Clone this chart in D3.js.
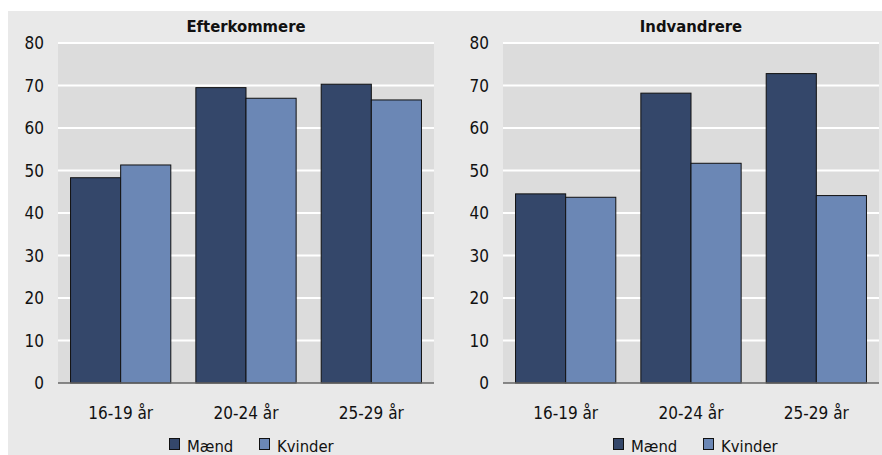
<!DOCTYPE html>
<html>
<head>
<meta charset="utf-8">
<script src="https://cdn.jsdelivr.net/npm/d3@7"></script>
<style>
  body { margin: 0; background: #fff; }
  svg text { font-family: "Liberation Sans Narrow", "DejaVu Sans Condensed", sans-serif; fill: #111; }
</style>
</head>
<body>
<svg id="chart" width="882" height="455"></svg>
<script>
// data
var ageGroups = ["16-19 år", "20-24 år", "25-29 år"];
var seriesNames = ["Mænd", "Kvinder"];
var panelTitles = ["Efterkommere", "Indvandrere"];
var efterkommereMaend = [48.3, 69.5, 70.3];
var efterkommereKvinder = [51.3, 67.0, 66.6];
var indvandrereMaend = [44.5, 68.2, 72.8];
var indvandrereKvinder = [43.7, 51.7, 44.1];
var yTicks = [0, 10, 20, 30, 40, 50, 60, 70, 80];

var colors = { "Mænd": "#34476a", "Kvinder": "#6b87b5" };

var panels = [
    { title: panelTitles[0], left: 58, right: 434, values: [efterkommereMaend, efterkommereKvinder], legendX: 169 },
    { title: panelTitles[1], left: 503, right: 879, values: [indvandrereMaend, indvandrereKvinder], legendX: 613 }
];

var svg = d3.select("#chart");
var plotTop = 43, plotBottom = 383;

// outer grey background
svg.append("rect")
    .attr("x", 8).attr("y", 11)
    .attr("width", 874).attr("height", 444)
    .attr("fill", "#e9e9e9");

var y = d3.scaleLinear().domain([0, 80]).range([plotBottom, plotTop]);

panels.forEach(function(p) {
    var g = svg.append("g");
    var x0 = d3.scaleBand().domain(ageGroups).range([p.left, p.right]).padding(0);
    var x1 = d3.scaleBand().domain(seriesNames)
        .range([x0.bandwidth() * 0.1, x0.bandwidth() * 0.9]).padding(0);

    g.append("rect")
        .attr("x", p.left).attr("y", plotTop)
        .attr("width", p.right - p.left).attr("height", plotBottom - plotTop)
        .attr("fill", "#dcdcdc");

    // gridlines
    g.selectAll("line.grid")
        .data(yTicks.filter(function(d) { return d > 0; }))
        .enter().append("line")
        .attr("x1", p.left).attr("x2", p.right)
        .attr("y1", function(d) { return y(d); })
        .attr("y2", function(d) { return y(d); })
        .attr("stroke", "#fff").attr("stroke-width", 2);

    // bars
    var groups = g.selectAll("g.grp")
        .data(ageGroups)
        .enter().append("g")
        .attr("transform", function(d) { return "translate(" + x0(d) + ",0)"; });

    groups.selectAll("rect")
        .data(function(d, i) {
            return seriesNames.map(function(s, j) { return { s: s, v: p.values[j][i] }; });
        })
        .enter().append("rect")
        .attr("x", function(d) { return x1(d.s); })
        .attr("width", x1.bandwidth())
        .attr("y", function(d) { return y(d.v); })
        .attr("height", function(d) { return y(0) - y(d.v); })
        .attr("fill", function(d) { return colors[d.s]; })
        .attr("stroke", "#111").attr("stroke-width", 1);

    // zero line
    g.append("line")
        .attr("x1", p.left).attr("x2", p.right)
        .attr("y1", y(0)).attr("y2", y(0))
        .attr("stroke", "#666").attr("stroke-width", 1.5);

    // y axis
    var yAxis = g.append("g")
        .attr("transform", "translate(" + (p.left - 14) + ",0)")
        .call(d3.axisLeft(y).tickValues(yTicks).tickSize(0).tickPadding(0));
    yAxis.select(".domain").remove();
    yAxis.selectAll("text").attr("font-size", 17).attr("dy", "0.35em")
        .style("font-family", null);

    // x axis
    var xAxis = g.append("g")
        .attr("transform", "translate(0," + plotBottom + ")")
        .call(d3.axisBottom(x0).tickSize(0).tickPadding(24));
    xAxis.select(".domain").remove();
    xAxis.selectAll("text").attr("font-size", 17).style("font-family", null);

    // title
    g.append("text")
        .attr("x", (p.left + p.right) / 2)
        .attr("y", 32)
        .attr("text-anchor", "middle")
        .attr("font-size", 16.5)
        .attr("font-weight", "bold")
        .style("font-family", "'DejaVu Sans Condensed', sans-serif")
        .text(p.title);

    // legend
    var leg = g.append("g").attr("transform", "translate(" + p.legendX + ",438)");
    var offs = [0, 90];
    seriesNames.forEach(function(s, i) {
        leg.append("rect")
            .attr("x", offs[i] + 0.5).attr("y", 0.5)
            .attr("width", 10).attr("height", 11)
            .attr("fill", colors[s]).attr("stroke", "#111");
        leg.append("text")
            .attr("x", offs[i] + 18).attr("y", 13.5)
            .attr("font-size", 16.5)
            .text(s);
    });
});
</script>
</body>
</html>
